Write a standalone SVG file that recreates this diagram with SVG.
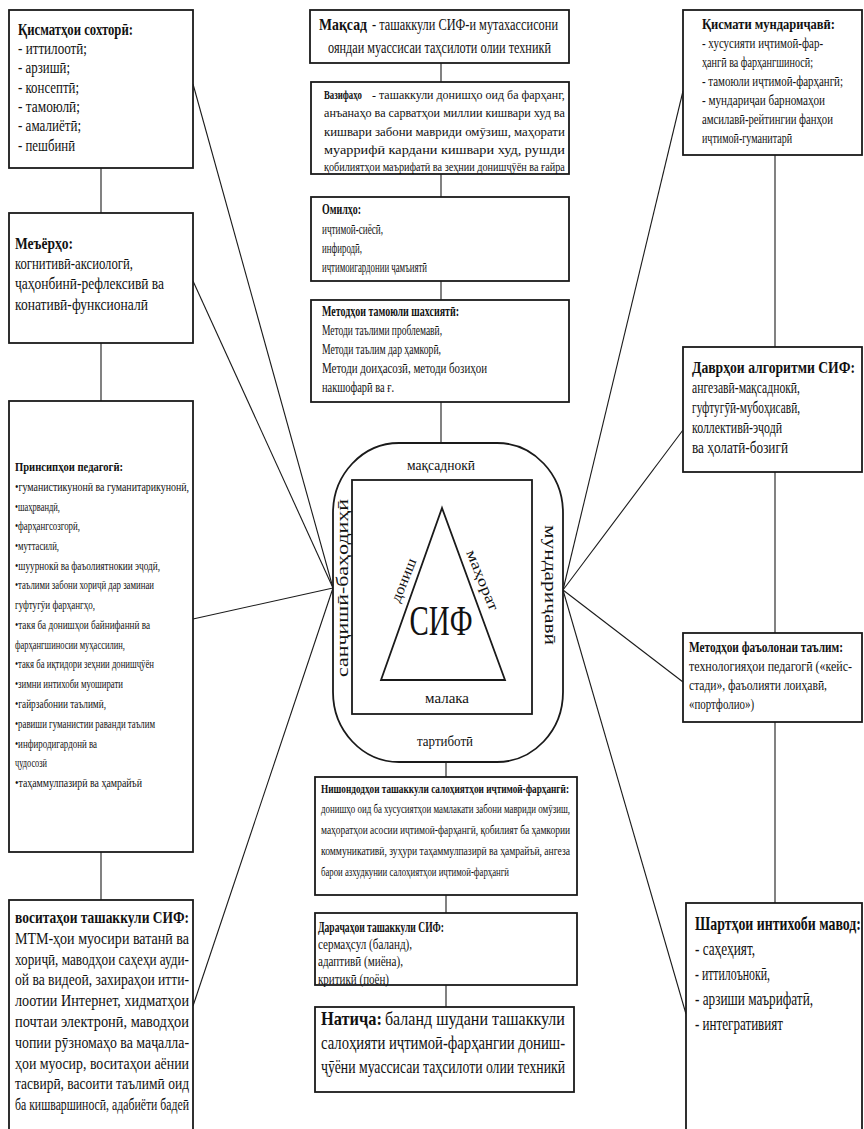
<svg xmlns="http://www.w3.org/2000/svg" width="864" height="1129" viewBox="0 0 864 1129">
<style>
.box{fill:#fff;stroke:#1a1a1a;stroke-width:1.8}
.ln{stroke:#1a1a1a;stroke-width:1.1;fill:none}
text{font-family:"Liberation Serif","Times New Roman",serif;fill:#111}
.b{font-weight:bold}
</style>
<rect width="864" height="1129" fill="#fff"/>
<g id="connectors">
<line class="ln" x1="101" y1="168" x2="101" y2="213"/>
<line class="ln" x1="101" y1="343" x2="101" y2="401"/>
<line class="ln" x1="101" y1="852" x2="101" y2="900"/>
<line class="ln" x1="441" y1="63" x2="441" y2="82"/>
<line class="ln" x1="441" y1="174" x2="441" y2="197"/>
<line class="ln" x1="441" y1="281" x2="441" y2="300"/>
<line class="ln" x1="441" y1="402" x2="441" y2="443"/>
<line class="ln" x1="446" y1="762" x2="446" y2="777"/>
<line class="ln" x1="446" y1="895" x2="446" y2="913"/>
<line class="ln" x1="446" y1="985" x2="446" y2="1007"/>
<line class="ln" x1="775" y1="155" x2="775" y2="347"/>
<line class="ln" x1="775" y1="472" x2="775" y2="633"/>
<line class="ln" x1="775" y1="722" x2="775" y2="903"/>
<line class="ln" x1="193" y1="84" x2="333" y2="588"/>
<line class="ln" x1="193" y1="281" x2="333" y2="588"/>
<line class="ln" x1="193" y1="619" x2="333" y2="588"/>
<line class="ln" x1="193" y1="1006" x2="333" y2="588"/>
<line class="ln" x1="683" y1="91" x2="563" y2="590"/>
<line class="ln" x1="683" y1="430" x2="563" y2="590"/>
<line class="ln" x1="683" y1="682" x2="563" y2="590"/>
<line class="ln" x1="686" y1="1014" x2="563" y2="590"/>
</g>
<g id="n-sohtori">
<rect class="box" x="9" y="10" width="184" height="158"/>
<g transform="translate(18,0) scale(0.73,1)" font-size="16">
<text class="b" y="35" textLength="157.5" lengthAdjust="spacingAndGlyphs">Қисматҳои сохторӣ:</text>
<text y="54" textLength="94.5" lengthAdjust="spacingAndGlyphs">- иттилоотӣ;</text>
<text y="73" textLength="71.2" lengthAdjust="spacingAndGlyphs">- арзишӣ;</text>
<text y="93" textLength="83.6" lengthAdjust="spacingAndGlyphs">- консептӣ;</text>
<text y="112" textLength="84.9" lengthAdjust="spacingAndGlyphs">- тамоюлӣ;</text>
<text y="131" textLength="86.3" lengthAdjust="spacingAndGlyphs">- амалиётӣ;</text>
<text y="151" textLength="78.1" lengthAdjust="spacingAndGlyphs">- пешбинӣ</text>
</g>
</g>
<g id="n-meyorho">
<rect class="box" x="9" y="213" width="184" height="130"/>
<g transform="translate(15,0) scale(0.75,1)" font-size="17">
<text class="b" y="249" textLength="77.3" lengthAdjust="spacingAndGlyphs">Меъёрҳо:</text>
<text y="269" textLength="157.3" lengthAdjust="spacingAndGlyphs">когнитивӣ-аксиологӣ,</text>
<text y="289" textLength="198.7" lengthAdjust="spacingAndGlyphs">ҷаҳонбинӣ-рефлексивӣ ва</text>
<text y="310" textLength="177.3" lengthAdjust="spacingAndGlyphs">конативӣ-функсионалӣ</text>
</g>
</g>
<g id="n-prinsipho">
<rect class="box" x="9" y="401" width="184" height="451"/>
<g transform="translate(15,0) scale(0.65,1)" font-size="13.5">
<text class="b" y="471" textLength="166.2" lengthAdjust="spacingAndGlyphs">Принсипҳои педагогӣ:</text>
<text y="491" textLength="267.7" lengthAdjust="spacingAndGlyphs">•гуманистикунонӣ ва гуманитарикунонӣ,</text>
<text y="511" textLength="69.2" lengthAdjust="spacingAndGlyphs">•шаҳрвандӣ,</text>
<text y="530" textLength="100" lengthAdjust="spacingAndGlyphs">•фарҳангсозгорӣ,</text>
<text y="550" textLength="67.7" lengthAdjust="spacingAndGlyphs">•муттасилӣ,</text>
<text y="570" textLength="223.1" lengthAdjust="spacingAndGlyphs">•шуурнокӣ ва фаъолиятнокии эҷодӣ,</text>
<text y="589" textLength="213.8" lengthAdjust="spacingAndGlyphs">•таълими забони хориҷӣ дар заминаи</text>
<text y="609" textLength="123.1" lengthAdjust="spacingAndGlyphs">гуфтугӯи фарҳангҳо,</text>
<text y="629" textLength="207.7" lengthAdjust="spacingAndGlyphs">•такя ба  донишҳои байнифаннӣ ва</text>
<text y="649" textLength="169.2" lengthAdjust="spacingAndGlyphs">фарҳангшиносии муҳассилин,</text>
<text y="668" textLength="213.8" lengthAdjust="spacingAndGlyphs">•такя ба иқтидори зеҳнии  донишҷӯён</text>
<text y="688" textLength="166.2" lengthAdjust="spacingAndGlyphs">•зимни  интихоби муоширати</text>
<text y="708" textLength="140" lengthAdjust="spacingAndGlyphs">•гайрзабонии таълимӣ,</text>
<text y="728" textLength="215.4" lengthAdjust="spacingAndGlyphs">•равиши гуманистии раванди таълим</text>
<text y="748" textLength="126.2" lengthAdjust="spacingAndGlyphs">•инфиродигардонӣ ва</text>
<text y="767" textLength="49.2" lengthAdjust="spacingAndGlyphs">ҷудосозӣ</text>
<text y="787" textLength="195.4" lengthAdjust="spacingAndGlyphs">•таҳаммулпазирӣ ва ҳамрайъӣ</text>
</g>
</g>
<g id="n-vositaho">
<rect class="box" x="9" y="900" width="184" height="240"/>
<g transform="translate(15,0) scale(0.72,1)" font-size="17">
<text class="b" y="923" textLength="241.7" lengthAdjust="spacingAndGlyphs">воситаҳои ташаккули СИФ:</text>
<text y="944" textLength="241.7" lengthAdjust="spacingAndGlyphs">МТМ-ҳои муосири ватанӣ ва</text>
<text y="965" textLength="241.7" lengthAdjust="spacingAndGlyphs">хориҷӣ, маводҳои саҳеҳи ауди-</text>
<text y="985" textLength="241.7" lengthAdjust="spacingAndGlyphs">ой ва  видеоӣ, захираҳои итти-</text>
<text y="1006" textLength="241.7" lengthAdjust="spacingAndGlyphs">лоотии Интернет, хидматҳои</text>
<text y="1027" textLength="241.7" lengthAdjust="spacingAndGlyphs">почтаи электронӣ, маводҳои</text>
<text y="1048" textLength="241.7" lengthAdjust="spacingAndGlyphs">чопии  рӯзномаҳо ва маҷалла-</text>
<text y="1069" textLength="241.7" lengthAdjust="spacingAndGlyphs">ҳои муосир, воситаҳои  аёнии</text>
<text y="1089" textLength="241.7" lengthAdjust="spacingAndGlyphs">тасвирӣ, васоити таълимӣ оид</text>
<text y="1110" textLength="241.7" lengthAdjust="spacingAndGlyphs">ба кишваршиносӣ, адабиёти бадеӣ</text>
</g>
</g>
<g id="n-maqsad">
<rect class="box" x="310" y="10" width="259" height="53"/>
<g transform="translate(319,0) scale(0.71,1)" font-size="16.5">
<text class="b" y="30" textLength="67.6" lengthAdjust="spacingAndGlyphs">Мақсад</text>
<text x="74.6" y="30" textLength="262" lengthAdjust="spacingAndGlyphs">-  ташаккули СИФ-и мутахассисони</text>
<text x="12.7" y="53" textLength="314" lengthAdjust="spacingAndGlyphs">ояндаи муассисаи таҳсилоти олии техникӣ</text>
</g>
</g>
<g id="n-vazifaho">
<rect class="box" x="311" y="82" width="258" height="92"/>
<g transform="translate(324,0) scale(0.8,1)" font-size="13.5">
<text class="b" y="99" textLength="47.5" lengthAdjust="spacingAndGlyphs">Вазифаҳо</text>
<text x="60" y="99" textLength="241" lengthAdjust="spacingAndGlyphs">-   ташаккули донишҳо оид ба фарҳанг,</text>
<text y="117" textLength="301" lengthAdjust="spacingAndGlyphs">анъанаҳо ва сарватҳои миллии кишвари худ ва</text>
<text y="136" textLength="301" lengthAdjust="spacingAndGlyphs">кишвари забони мавриди омӯзиш, маҳорати</text>
<text y="154" textLength="301" lengthAdjust="spacingAndGlyphs">муаррифӣ кардани кишвари худ,  рушди</text>
<text y="171" textLength="301" lengthAdjust="spacingAndGlyphs">қобилиятҳои маърифатӣ ва  зеҳнии донишҷӯён ва ғайра</text>
</g>
</g>
<g id="n-omilho">
<rect class="box" x="311" y="197" width="258" height="84"/>
<g transform="translate(322,0) scale(0.6,1)" font-size="15">
<text class="b" y="214" textLength="65" lengthAdjust="spacingAndGlyphs">Омилҳо:</text>
<text y="234" textLength="101.7" lengthAdjust="spacingAndGlyphs">иҷтимоӣ-сиёсӣ,</text>
<text y="253" textLength="66.7" lengthAdjust="spacingAndGlyphs">инфиродӣ,</text>
<text y="272" textLength="175" lengthAdjust="spacingAndGlyphs">иҷтимоигардонии ҷамъиятӣ</text>
</g>
</g>
<g id="n-metodho">
<rect class="box" x="311" y="300" width="258" height="102"/>
<g transform="translate(322,0) scale(0.63,1)" font-size="15">
<text class="b" y="316" textLength="217.5" lengthAdjust="spacingAndGlyphs">Методҳои тамоюли шахсиятӣ:</text>
<text y="335" textLength="190.5" lengthAdjust="spacingAndGlyphs">Методи таълими проблемавӣ,</text>
<text y="354" textLength="188.9" lengthAdjust="spacingAndGlyphs">Методи таълим дар ҳамкорӣ,</text>
<text y="373" textLength="261.9" lengthAdjust="spacingAndGlyphs">Методи доиҳасозӣ, методи бозиҳои</text>
<text y="392" textLength="114.3" lengthAdjust="spacingAndGlyphs">накшофарӣ ва ғ.</text>
</g>
</g>
<g id="n-sif">
<rect class="box" x="333" y="443" width="230" height="319" rx="66" ry="70"/>
<rect class="box" x="352" y="480" width="180" height="234" stroke-width="1.5"/>
<polygon class="box" points="442,508 381,680 505,680" stroke-width="1.5"/>
<text font-size="15.5" x="441" y="470" text-anchor="middle" textLength="68" lengthAdjust="spacingAndGlyphs">мақсаднокӣ</text>
<text font-size="15.5" x="447" y="703" text-anchor="middle" textLength="44" lengthAdjust="spacingAndGlyphs">малака</text>
<text font-size="15.5" x="445" y="746" text-anchor="middle" textLength="56" lengthAdjust="spacingAndGlyphs">тартиботӣ</text>
<text font-size="42" transform="translate(441,635) scale(0.68,1)" text-anchor="middle" textLength="92.6" lengthAdjust="spacingAndGlyphs">СИФ</text>
<text font-size="15" transform="translate(408,582) rotate(-68)" text-anchor="middle" textLength="46" lengthAdjust="spacingAndGlyphs">дониш</text>
<text font-size="15" transform="translate(478,582) rotate(68)" text-anchor="middle" textLength="64" lengthAdjust="spacingAndGlyphs">маҳорат</text>
<text font-size="17" transform="translate(343,588) rotate(-90)" y="5" text-anchor="middle" textLength="178" lengthAdjust="spacingAndGlyphs">санҷишӣ-баҳодиҳӣ</text>
<text font-size="17" transform="translate(550,585) rotate(90)" y="5" text-anchor="middle" textLength="120" lengthAdjust="spacingAndGlyphs">мундариҷавӣ</text>
</g>
<g id="n-nishondodho">
<rect class="box" x="315" y="777" width="262" height="118"/>
<g transform="translate(321,0) scale(0.72,1)" font-size="12">
<text class="b" y="793" textLength="344.4" lengthAdjust="spacingAndGlyphs">Нишондодҳои ташаккули салоҳиятҳои иҷтимоӣ-фарҳангӣ:</text>
<text y="813" textLength="345.8" lengthAdjust="spacingAndGlyphs">донишҳо оид ба хусусиятҳои мамлакати забони мавриди омӯзиш,</text>
<text y="834" textLength="345.8" lengthAdjust="spacingAndGlyphs">маҳоратҳои асосии иҷтимоӣ-фарҳангӣ, қобилият ба ҳамкории</text>
<text y="855" textLength="345.8" lengthAdjust="spacingAndGlyphs">коммуникативӣ, зуҳури таҳаммулпазирӣ ва ҳамрайъӣ, ангеза</text>
<text y="876" textLength="261.1" lengthAdjust="spacingAndGlyphs">барои азхудкунии салоҳиятҳои иҷтимоӣ-фарҳангӣ</text>
</g>
</g>
<g id="n-darajaho">
<rect class="box" x="315" y="913" width="262" height="72"/>
<g transform="translate(318,0) scale(0.72,1)" font-size="14">
<text class="b" y="932" textLength="175" lengthAdjust="spacingAndGlyphs">Дараҷаҳои ташаккули СИФ:</text>
<text y="949" textLength="130.6" lengthAdjust="spacingAndGlyphs">сермаҳсул (баланд),</text>
<text y="966" textLength="118" lengthAdjust="spacingAndGlyphs">адаптивӣ (миёна),</text>
<text y="984" textLength="98.6" lengthAdjust="spacingAndGlyphs">критикӣ (поён)</text>
</g>
</g>
<g id="n-natija">
<rect class="box" x="315" y="1007" width="259" height="85"/>
<g transform="translate(321,0) scale(0.71,1)" font-size="18">
<text class="b" y="1025" textLength="85.9" lengthAdjust="spacingAndGlyphs">Натиҷа:</text>
<text x="90.1" y="1025" textLength="253.5" lengthAdjust="spacingAndGlyphs">баланд  шудани  ташаккули</text>
<text y="1049" textLength="343.7" lengthAdjust="spacingAndGlyphs">салоҳияти  иҷтимоӣ-фарҳангии  дониш-</text>
<text y="1073" textLength="343.7" lengthAdjust="spacingAndGlyphs">ҷӯёни  муассисаи таҳсилоти олии техникӣ</text>
</g>
</g>
<g id="n-mundarija">
<rect class="box" x="683" y="10" width="179" height="145"/>
<g transform="translate(702,0) scale(0.7,1)" font-size="15.5">
<text class="b" y="29" textLength="190" lengthAdjust="spacingAndGlyphs">Қисмати мундариҷавӣ:</text>
<text y="48" textLength="172.9" lengthAdjust="spacingAndGlyphs">- хусусияти иҷтимоӣ-фар-</text>
<text y="67" textLength="158.6" lengthAdjust="spacingAndGlyphs">ҳангӣ ва фарҳангшиносӣ;</text>
<text y="86" textLength="201.4" lengthAdjust="spacingAndGlyphs">- тамоюли иҷтимоӣ-фарҳангӣ;</text>
<text y="105" textLength="175.7" lengthAdjust="spacingAndGlyphs">- мундариҷаи барномаҳои</text>
<text y="124" textLength="187.1" lengthAdjust="spacingAndGlyphs">амсилавӣ-рейтингии фанҳои</text>
<text y="143" textLength="128.6" lengthAdjust="spacingAndGlyphs">иҷтимоӣ-гуманитарӣ</text>
</g>
</g>
<g id="n-davrho">
<rect class="box" x="683" y="347" width="179" height="125"/>
<g transform="translate(692,0) scale(0.7,1)" font-size="17">
<text class="b" y="373" textLength="232.9" lengthAdjust="spacingAndGlyphs">Даврҳои алгоритми СИФ:</text>
<text y="393" textLength="154.3" lengthAdjust="spacingAndGlyphs">ангезавӣ-мақсаднокӣ,</text>
<text y="413" textLength="154.3" lengthAdjust="spacingAndGlyphs">гуфтугӯӣ-мубоҳисавӣ,</text>
<text y="433" textLength="128.6" lengthAdjust="spacingAndGlyphs">коллективӣ-эҷодӣ</text>
<text y="453" textLength="137.1" lengthAdjust="spacingAndGlyphs">ва ҳолатӣ-бозигӣ</text>
</g>
</g>
<g id="n-faolona">
<rect class="box" x="683" y="633" width="179" height="89"/>
<g transform="translate(689,0) scale(0.72,1)" font-size="15">
<text class="b" y="652" textLength="213.9" lengthAdjust="spacingAndGlyphs">Методҳои фаъолонаи таълим:</text>
<text y="671" textLength="226.4" lengthAdjust="spacingAndGlyphs">технологияҳои педагогӣ («кейс-</text>
<text y="690" textLength="191.7" lengthAdjust="spacingAndGlyphs">стади»,  фаъолияти лоиҳавӣ,</text>
<text y="709" textLength="90.3" lengthAdjust="spacingAndGlyphs">«портфолио»)</text>
</g>
</g>
<g id="n-shartho">
<rect class="box" x="686" y="903" width="176" height="240"/>
<g transform="translate(695,0) scale(0.7,1)" font-size="18.5">
<text class="b" y="930" textLength="237.1" lengthAdjust="spacingAndGlyphs">Шартҳои интихоби мавод:</text>
<text y="955" textLength="85.7" lengthAdjust="spacingAndGlyphs">- саҳеҳият,</text>
<text y="980" textLength="107.1" lengthAdjust="spacingAndGlyphs">- иттилоънокӣ,</text>
<text y="1005" textLength="168.6" lengthAdjust="spacingAndGlyphs">- арзиши маърифатӣ,</text>
<text y="1030" textLength="125.7" lengthAdjust="spacingAndGlyphs">- интегративият</text>
</g>
</g>
</svg>
